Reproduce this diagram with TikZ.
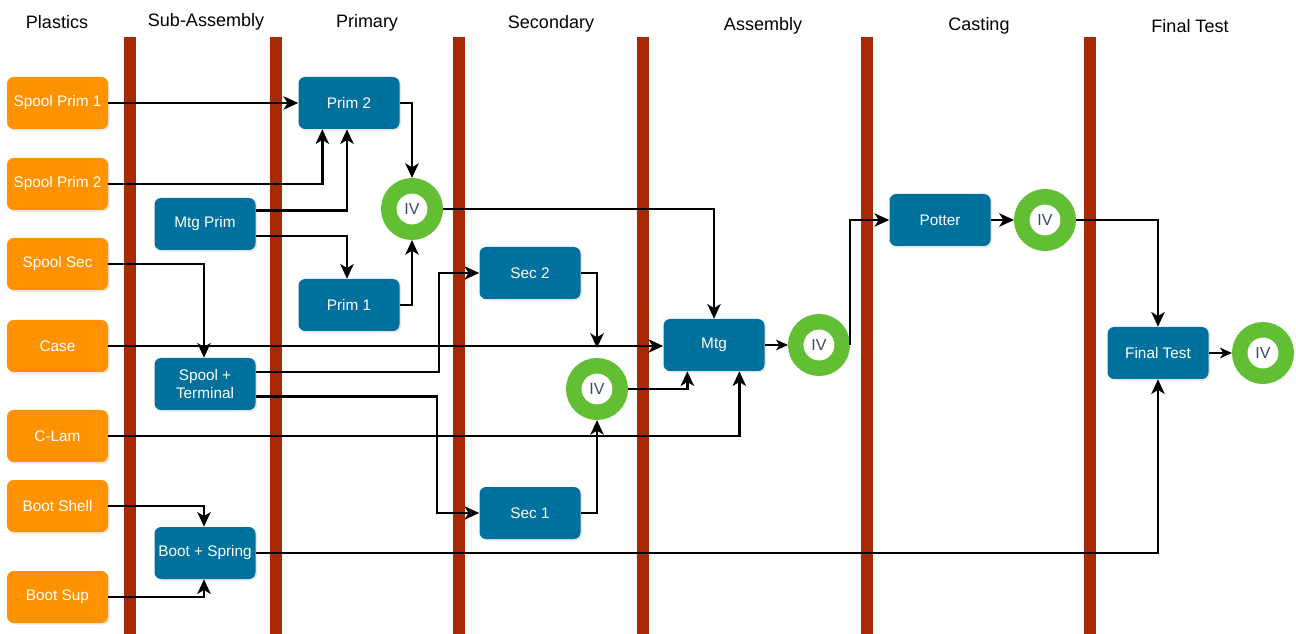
\documentclass[tikz,border=0pt]{standalone}
\usepackage{fontspec}
\setmainfont{Liberation Sans}
\usetikzlibrary{arrows.meta,shadows}
\definecolor{barc}{RGB}{168,42,4}
\definecolor{orng}{RGB}{255,146,0}
\definecolor{blu}{RGB}{0,112,157}
\definecolor{grn}{RGB}{98,190,50}
\definecolor{ivtxt}{RGB}{60,70,105}
\begin{document}
\begin{tikzpicture}[x=0.75pt,y=-0.75pt,
  boxbase/.style={rectangle, rounded corners=5pt, text=white, minimum width=75.75pt,
    minimum height=39pt, inner sep=0pt, align=center,
    font=\fontsize{11.5}{13.5}\selectfont,
    drop shadow={opacity=0.2, shadow xshift=1.2pt, shadow yshift=-1.2pt}},
  plastic/.style={boxbase, fill=orng},
  proc/.style={boxbase, fill=blu},
  ivring/.style={circle, draw=grn, line width=11.6pt, fill=white, minimum size=34.9pt,
    inner sep=0pt, text=ivtxt, font=\fontsize{12}{14}\selectfont},
  head/.style={font=\fontsize{13.5}{16}\selectfont, text=black},
  flow/.style={line width=1.9pt, -{Stealth[length=11pt,width=10pt,inset=3pt]}},
  thinflow/.style={line width=1pt, -{Stealth[length=9pt,width=8pt,inset=2.5pt]}}
]
\useasboundingbox (0,0) rectangle (1296,634);
% lanes
\foreach \x in {130,276,459,643,867,1090}
  \fill[barc] (\x-6,37) rectangle (\x+6,634);
% headers
\node[head] (h1) at (57,22) {Plastics};
\node[head] (h2) at (206,22) {Sub-Assembly};
\node[head] (h3) at (367,23) {Primary};
\node[head] (h4) at (551,24) {Secondary};
\node[head] (h5) at (763,26) {Assembly};
\node[head] (h6) at (979,26) {Casting};
\node[head] (h7) at (1190,26) {Final Test};
% plastics
\node[plastic] (sp1) at (57.5,103) {Spool Prim 1};
\node[plastic] (sp2) at (57.5,184) {Spool Prim 2};
\node[plastic] (ss) at (57.5,264) {Spool Sec};
\node[plastic] (case) at (57.5,346) {Case};
\node[plastic] (clam) at (57.5,436) {C-Lam};
\node[plastic] (bsh) at (57.5,506) {Boot Shell};
\node[plastic] (bsu) at (57.5,597) {Boot Sup};
% processes
\node[proc] (prim2) at (349,103) {Prim 2};
\node[proc] (mtgprim) at (205,224) {Mtg Prim};
\node[proc] (prim1) at (349,305) {Prim 1};
\node[proc] (sec2) at (530,273) {Sec 2};
\node[proc] (st) at (205,384) {Spool +\\Terminal};
\node[proc] (mtg) at (714,345) {Mtg};
\node[proc] (sec1) at (530,513) {Sec 1};
\node[proc] (bsp) at (205,553) {Boot + Spring};
\node[proc] (potter) at (940,220) {Potter};
\node[proc] (ft) at (1158,353) {Final Test};
% IV rings
\node[ivring] (iv1) at (412,209) {IV};
\node[ivring] (iv2) at (597,389) {IV};
\node[ivring] (iv3) at (819,345) {IV};
\node[ivring] (iv4) at (1045,220) {IV};
\node[ivring] (iv5) at (1263,353) {IV};
% connectors
\draw[flow] (sp1.east) -- (prim2.west);
\draw[flow] (sp2.east) -| ([xshift=-20pt]prim2.south);
\draw[flow] ([yshift=10pt]mtgprim.east) -| ([xshift=-1.5pt]prim2.south);
\draw[flow] ([yshift=-9pt]mtgprim.east) -| ([xshift=-1.5pt]prim1.north);
\draw[flow] (prim2.east) -| (iv1.north);
\draw[flow] (prim1.east) -| (iv1.south);
\draw[flow] (iv1.east) -| (mtg.north);
\draw[flow] (ss.east) -| ([xshift=-0.75pt]st.north);
\draw[flow] (case.east) -- (case.east -| mtg.west);
\draw[flow] ([yshift=9pt]st.east) -- ++(183,0) |- (sec2.west);
\draw[flow] ([yshift=-9.5pt]st.east) -- ++(181,0) |- (sec1.west);
\draw[flow] (sec2.east) -| ([yshift=7.5pt]iv2.north);
\draw[flow] (iv2.east) -| ([xshift=-20pt]mtg.south);
\draw[flow] (clam.east) -| ([xshift=19pt]mtg.south);
\draw[flow] (sec1.east) -| (iv2.south);
\draw[thinflow] (mtg.east) -- (iv3.west);
\draw[flow] (iv3.east) |- (potter.west);
\draw[flow] (potter.east) -- (iv4.west);
\draw[flow] (iv4.east) -| (ft.north);
\draw[flow] (bsp.east) -| (ft.south);
\draw[thinflow] (ft.east) -- (iv5.west);
\draw[flow] (bsh.east) -| ([xshift=-0.75pt]bsp.north);
\draw[flow] (bsu.east) -| ([xshift=-0.75pt]bsp.south);
\end{tikzpicture}
\end{document}
